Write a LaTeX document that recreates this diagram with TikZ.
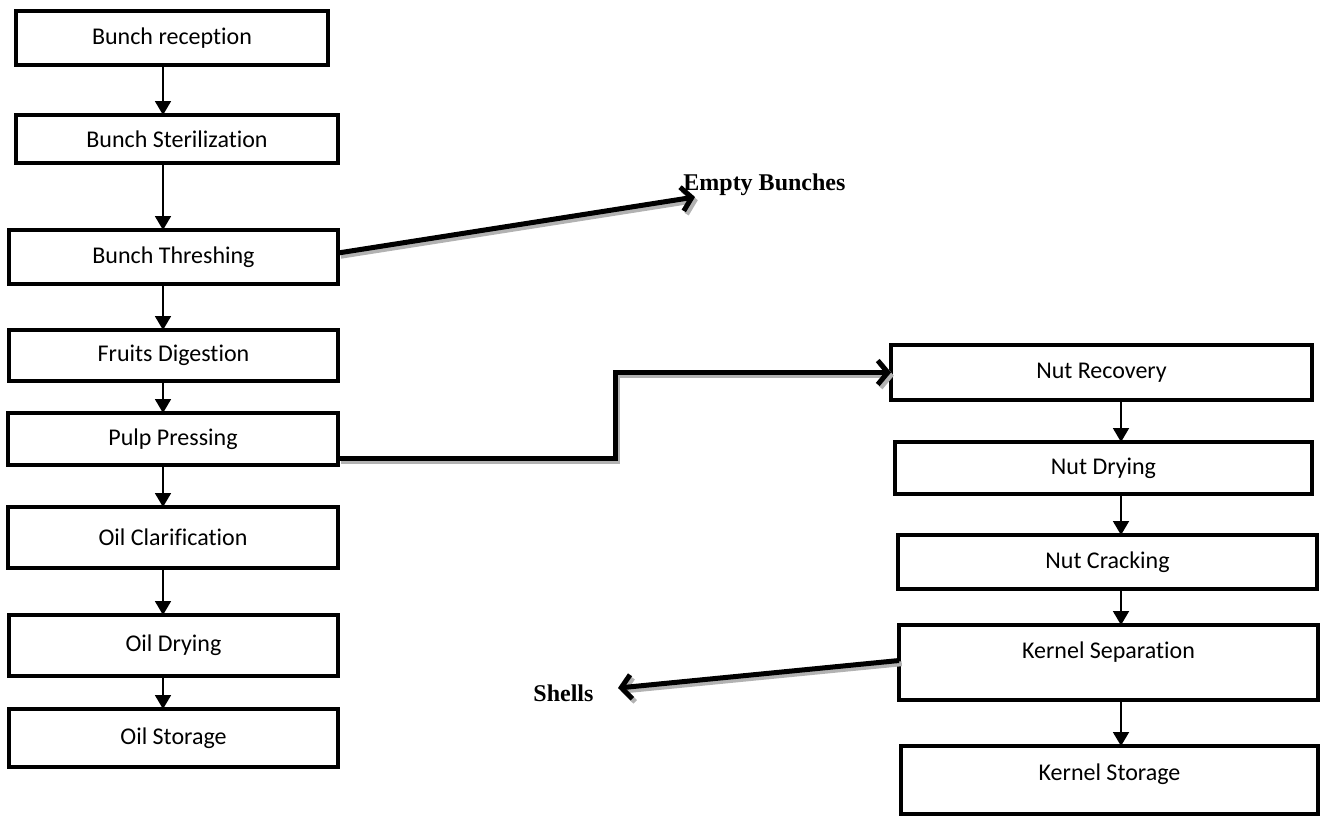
\documentclass[tikz,border=0pt]{standalone}
\usepackage{fontspec}
\setmainfont[Ligatures=NoCommon]{Carlito}
\newfontfamily\lblfont{Liberation Serif}
\usetikzlibrary{arrows.meta}

\tikzset{
  stage/.style={draw, line width=2.4pt, inner sep=0pt, outer sep=0pt,
    font=\fontsize{12}{14}\selectfont},
  flow/.style={line width=0.9pt, -{Triangle[length=7pt,width=8pt]}},
  byprod/.style={line width=2.5pt, line join=miter,
    -{Straight Barb[length=5pt,width=12pt]}},
  byshadow/.style={byprod, draw=gray!60,
    transform canvas={shift={(1.4pt,-1.6pt)}}},
  outlbl/.style={anchor=west, inner sep=0pt,
    font=\lblfont\bfseries\fontsize{12}{14}\selectfont}
}

\begin{document}
\begin{tikzpicture}[x=0.5pt, y=-0.5pt]
\useasboundingbox (0,0) rectangle (1322,821);

% oil line
\node[stage, minimum width=156pt,   minimum height=27pt]   (recep)   at (172,38)      {Bunch reception};
\node[stage, minimum width=161pt,   minimum height=24pt]   (steril)  at (177,139)     {Bunch Sterilization};
\node[stage, minimum width=164.5pt, minimum height=27pt]   (thresh)  at (173.5,257)   {Bunch Threshing};
\node[stage, minimum width=164.5pt, minimum height=25.5pt] (digest)  at (173.5,355.5) {Fruits Digestion};
\node[stage, minimum width=165pt,   minimum height=26pt]   (press)   at (173,439)     {Pulp Pressing};
\node[stage, minimum width=165pt,   minimum height=30.5pt] (clarif)  at (173,537.5)   {Oil Clarification};
\node[stage, minimum width=164.5pt, minimum height=30.5pt] (odry)    at (173.5,645.5) {Oil Drying};
\node[stage, minimum width=164.5pt, minimum height=29pt]   (ostore)  at (173.5,738)   {Oil Storage};

% nut line
\node[stage, minimum width=210.5pt, minimum height=27.5pt] (nrec)    at (1101.5,372.5) {Nut Recovery};
\node[stage, minimum width=208.5pt, minimum height=26pt]   (ndry)    at (1103.5,468)   {Nut Drying};
\node[stage, minimum width=209.5pt, minimum height=27pt]   (ncrack)  at (1107.5,562)   {Nut Cracking};
\node[stage, minimum width=209.5pt, minimum height=37.5pt, text depth=12pt] (ksep)  at (1108.5,662.5) {Kernel Separation};
\node[stage, minimum width=208.5pt, minimum height=34pt,   text depth=8pt]  (kstore) at (1109.5,780)  {Kernel Storage};

% by-products
\node[outlbl] (empty)  at (683,185) {Empty Bunches};
\node[outlbl] (shells) at (533,693) {Shells};

\coordinate (lcol) at (163,0);
\coordinate (rcol) at (1121,0);
\coordinate (ebtip) at (695,197);
\coordinate (shtip) at (618,688);
\coordinate (turn) at (615,458);

\draw[flow] (recep.south -| lcol)  -- (steril.north -| lcol);
\draw[flow] (steril.south -| lcol) -- (thresh.north -| lcol);
\draw[flow] (thresh.south -| lcol) -- (digest.north -| lcol);
\draw[flow] (digest.south -| lcol) -- (press.north -| lcol);
\draw[flow] (press.south -| lcol)  -- (clarif.north -| lcol);
\draw[flow] (clarif.south -| lcol) -- (odry.north -| lcol);
\draw[flow] (odry.south -| lcol)   -- (ostore.north -| lcol);

\draw[flow] (nrec.south -| rcol)   -- (ndry.north -| rcol);
\draw[flow] (ndry.south -| rcol)   -- (ncrack.north -| rcol);
\draw[flow] (ncrack.south -| rcol) -- (ksep.north -| rcol);
\draw[flow] (ksep.south -| rcol)   -- (kstore.north -| rcol);

% shadows first
\draw[byshadow] ([yshift=2pt]thresh.east) -- (ebtip);
\draw[byshadow] ([yshift=-9.5pt]press.east) -- (turn) |- (nrec.west);
\draw[byshadow] ([yshift=1pt]ksep.west) -- (shtip);

\draw[byprod] ([yshift=2pt]thresh.east) -- (ebtip);
\draw[byprod] ([yshift=-9.5pt]press.east) -- (turn) |- (nrec.west);
\draw[byprod] ([yshift=1pt]ksep.west) -- (shtip);
\end{tikzpicture}
\end{document}
